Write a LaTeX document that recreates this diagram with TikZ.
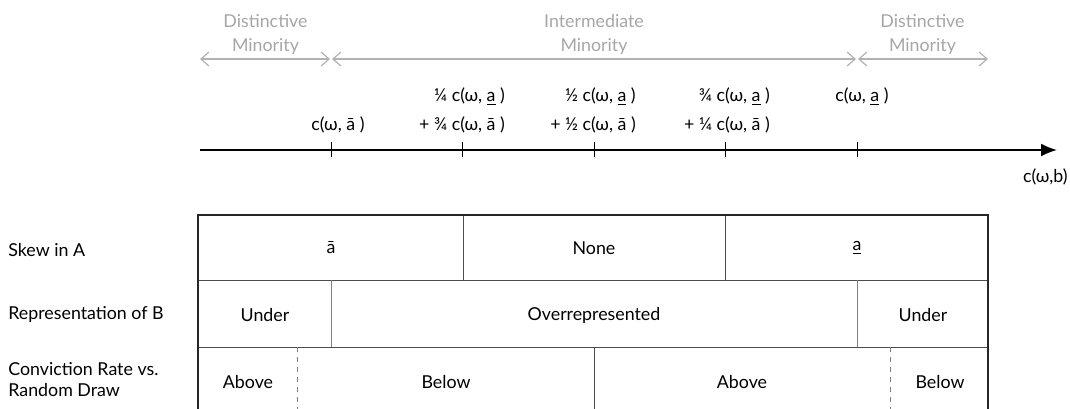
\documentclass[tikz,border=0pt]{standalone}
\usepackage{fontspec}
\setmainfont{Lato}
\usetikzlibrary{arrows.meta}
\newcommand{\abar}{\={a}}
\newcommand{\aund}{\underline{a}}

\begin{document}
\begin{tikzpicture}[x=0.5pt, y=-0.5pt,
		every node/.style={font=\fontsize{8.9}{10.5}\selectfont, inner sep=0pt},
		zone/.style={draw=black!30, line width=0.6pt, {Straight Barb[length=4pt,width=7pt]}-{Straight Barb[length=4pt,width=7pt]}},
		zonetext/.style={text=black!35, align=center, font=\fontsize{8.9}{12}\selectfont},
		axis/.style={line width=0.9pt, -{Latex[length=8pt,width=6.5pt]}},
		tick/.style={line width=0.5pt},
		rowlab/.style={anchor=west, align=left},
		frame/.style={draw=black!85, line width=1pt},
		divider/.style={draw=black!70, line width=0.5pt},
		softdiv/.style={draw=black!50, line width=0.5pt},
		dashdiv/.style={draw=black!50, line width=0.5pt, dash pattern=on 2.5pt off 2.5pt}]
	\useasboundingbox (0,0) rectangle (1070,408);
	
	%---------------- ZONES ----------------
	\coordinate (z0) at (200,59);
	\coordinate (z1) at (331,59);
	\coordinate (z2) at (857,59);
	\coordinate (z3) at (988,59);
	\draw[zone, shorten >=0.5pt] (z0) -- node[zonetext, above=2pt] (dleft) {Distinctive\\Minority} (z1);
	\draw[zone, shorten <=0.5pt, shorten >=0.5pt] (z1) -- node[zonetext, above=2pt] (inter) {Intermediate\\Minority} (z2);
	\draw[zone, shorten <=0.5pt] (z2) -- node[zonetext, above=2pt] (dright) {Distinctive\\Minority} (z3);
	
	%---------------- AXIS ----------------
	\coordinate (ax0) at (200,150);
	\coordinate (ax1) at (1057,150);
	\draw[axis] (ax0) -- (ax1);
	\node[anchor=east] (axlab) at (1068,177) {c(ω,b)};
	
	% ticks
	\foreach \T/\X in {t1/331,t2/462,t3/594,t4/725,t5/857} {
		\coordinate (\T) at (\X,150);
		\draw[tick] ([yshift=4pt]\T) -- ([yshift=-3.5pt]\T);
	}
	
	% tick labels, lower line
	\coordinate (upy) at (0,97);
	\node (l1) at (338,125) {c(ω, \abar\ )};
	\node (l2) at (462,125) {+ ¾ c(ω, \abar\ )};
	\node (l3) at (593,125) {+ ½ c(ω, \abar\ )};
	\node (l4) at (727,125) {+ ¼ c(ω, \abar\ )};
	% tick labels, upper line
	\node[anchor=east] (u2) at (l2.east |- upy) {¼ c(ω, \aund\ )};
	\node[anchor=east] (u3) at (l3.east |- upy) {½ c(ω, \aund\ )};
	\node[anchor=east] (u4) at (l4.east |- upy) {¾ c(ω, \aund\ )};
	\node (u5) at (862,97) {c(ω, \aund\ )};
	
	%---------------- TABLE ----------------
	\coordinate (tl) at (198,215);
	\coordinate (br) at (988,414);
	% row lines
	\draw[divider] (198,280) -- (988,280);
	\draw[divider] (198,347) -- (988,347);
	% row 1 dividers
	\draw[divider] (463,215) -- (463,280);
	\draw[divider] (725,215) -- (725,280);
	% row 2 dividers
	\draw[softdiv] (331,280) -- (331,347);
	\draw[softdiv] (857,280) -- (857,347);
	% row 3 dividers
	\draw[divider] (594,347) -- (594,414);
	\draw[dashdiv] (297,347) -- (297,414);
	\draw[dashdiv] (890,347) -- (890,414);
	\draw[frame] (tl) rectangle (br);
	
	% row labels
	\node[rowlab] (skew) at (8,250) {Skew in A};
	\node[rowlab] (repr) at (8,314) {Representation of B};
	\node[rowlab] (conv) at (8,380) {Conviction Rate vs.\\Random Draw};
	
	% cells
	\foreach \C/\X/\Y/\N in {a1/331/248/\abar, a2/594/248/None, a3/857/248/\aund,
		b1/265/315/Under, b2/594/315/Overrepresented, b3/923/315/Under,
		c1/248/382/Above, c2/446/382/Below, c3/742/382/Above, c4/940/382/Below} {
		\node (\C) at (\X,\Y) {\N};
	}
\end{tikzpicture}
\end{document}
